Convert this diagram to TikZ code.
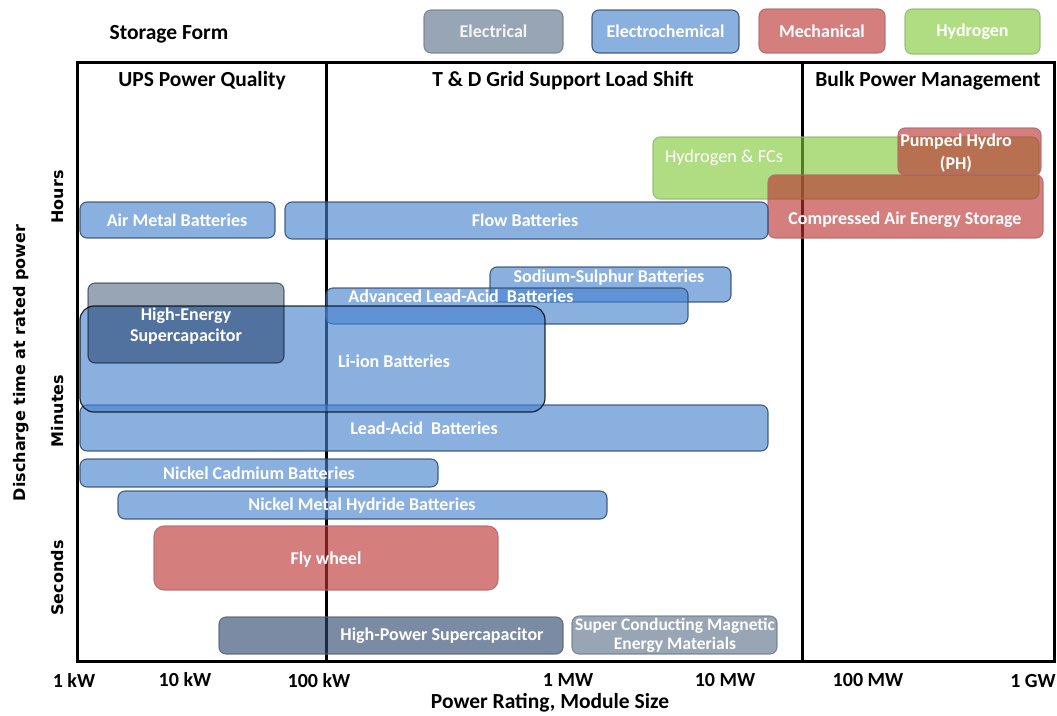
\documentclass[tikz,border=0pt]{standalone}
\usepackage{fontspec}
\setmainfont{Carlito}
\newfontfamily\axfont{DejaVu Sans}
\definecolor{gryF}{HTML}{5C7189}
\definecolor{gryM}{HTML}{98A5B5}
\definecolor{gryD}{HTML}{737D8C}
\definecolor{dgryF}{HTML}{2D476E}
\definecolor{bluF}{HTML}{4682CE}
\definecolor{bluD}{HTML}{2E4A70}
\definecolor{redF}{HTML}{BB3333}
\definecolor{redD}{HTML}{B06A6A}
\definecolor{grnF}{HTML}{82C839}
\definecolor{grnD}{HTML}{93B870}
\newcommand\storebox[6]{%
  \node[#2, minimum width={#5-#3}, minimum height={#6-#4}] (#1) at ({(#3+#5)/2},{(#4+#6)/2}) {};}
\begin{document}
\begin{tikzpicture}[x=1pt,y=-1pt,
  every node/.style={inner sep=0pt, outer sep=0pt},
  base/.style={rounded corners=7pt, line width=1.1pt, fill opacity=0.632, draw opacity=0.85},
  elec/.style={base, fill=gryF, draw=gryD},
  hielec/.style={rounded corners=7pt, line width=1.1pt, blend mode=multiply, fill=gryM, draw=gryD},
  delec/.style={base, fill=dgryF, draw=gryD!80!black},
  chem/.style={base, fill=bluF, draw=bluD},
  mech/.style={base, fill=redF, draw=redD},
  hydro/.style={base, fill=grnF, draw=grnD},
  lbl/.style={text=white, font=\fontsize{18}{21}\selectfont\bfseries, align=center},
  lbln/.style={text=white, font=\fontsize{18.3}{21}\selectfont, align=center},
  head/.style={font=\fontsize{21.5}{24}\selectfont\bfseries},
  tick/.style={font=\fontsize{20}{22}\selectfont\bfseries},
  yax/.style={font=\axfont\fontsize{16}{18}\selectfont\bfseries, rotate=90}]
\useasboundingbox (0,0) rectangle (1057,715);
% legend
\node[head] (sf) at (169,34) {Storage Form};
\storebox{lgE}{elec}{424}{10}{563}{53}
\node[lbl, text=white!92!gray] (lgEt) at (lgE) {Electrical};
\storebox{lgC}{chem}{592}{10}{739}{53}
\node[lbl] (lgCt) at (lgC) {Electrochemical};
\storebox{lgM}{mech}{759}{9}{885}{53}
\node[lbl] (lgMt) at (lgM) {Mechanical};
\storebox{lgH}{hydro}{905}{9}{1040}{54}
\node[lbl] (lgHt) at (lgH) {Hydrogen};
% frame
\draw[line width=3pt] (77,62) rectangle (1054,661);
\coordinate (d1t) at (326,62); \coordinate (d1b) at (326,661);
\coordinate (d2t) at (802,62); \coordinate (d2b) at (802,661);
\draw[line width=3pt] (d1t) -- (d1b);
\draw[line width=3pt] (d2t) -- (d2b);
\node[head] (h1) at (202,81) {UPS Power Quality};
\node[head] (h2) at (563,81) {T \& D Grid Support Load Shift};
\node[head] (h3) at (928,81) {Bulk Power Management};
% boxes
\storebox{hyd}{hydro}{653}{137}{1039}{199}
\node[lbln, anchor=west] (hydt) at (665,158) {Hydrogen \& FCs};
\storebox{ph}{mech}{898}{128}{1041}{175}
\node[lbl, align=center] (pht) at (956,153) {Pumped Hydro\\[2pt](PH)};
\storebox{caes}{mech}{768}{175}{1043}{238}
\node[lbl] (caest) at (905,220) {Compressed Air Energy Storage};
\storebox{am}{chem}{80}{202}{275}{238}
\node[lbl] (amt) at (177,220) {Air Metal Batteries};
\storebox{flow}{chem}{285}{202}{768}{239}
\node[lbl] (flowt) at (525,220) {Flow Batteries};
\storebox{nas}{chem}{490}{267}{731}{302}
\node[lbl] (nast) at (609,278) {Sodium-Sulphur Batteries};
\storebox{ala}{chem}{326}{288}{688}{324}
\node[lbl] (alat) at (461,296) {Advanced Lead-Acid\ \ Batteries};
\storebox{la}{chem}{80}{405}{768}{451}
\storebox{li}{chem, rounded corners=14pt, draw=black!85!bluD, line width=1.2pt}{80}{306}{545}{412}
\storebox{hes}{hielec}{88}{283}{284}{363}
\node[lbl] (hest) at (186,326) {High-Energy\\Supercapacitor};
\node[lbl] (lit) at (394,361) {Li-ion Batteries};
\node[lbl] (lat) at (424,428) {Lead-Acid\ \ Batteries};
\storebox{nicd}{chem}{80}{459}{438}{487}
\node[lbl] (nicdt) at (259,473) {Nickel Cadmium Batteries};
\storebox{nimh}{chem}{118}{491}{607}{519}
\node[lbl] (nimht) at (362,506) {Nickel Metal Hydride Batteries};
\storebox{fly}{mech, rounded corners=10pt}{154}{526}{498}{590}
\node[lbl] (flyt) at (326,560) {Fly wheel};
\storebox{hps}{delec}{219}{617}{563}{654}
\node[lbl] (hpst) at (442,636) {High-Power Supercapacitor};
\storebox{smes}{elec}{572}{616}{777}{654}
\node[lbl, font=\fontsize{17.5}{19}\selectfont\bfseries] (smest) at (675,635) {Super Conducting Magnetic\\Energy Materials};
% axes labels
\node[yax] (yh) at (58,197) {Hours};
\node[yax] (ym) at (58,411) {Minutes};
\node[yax] (ys) at (58,578) {Seconds};
\node[yax] (ytitle) at (21,363) {Discharge time at rated power};
\node[tick] (x1) at (74,680) {1 kW};
\node[tick] (x2) at (185,680) {10 kW};
\node[tick] (x3) at (319,681) {100 kW};
\node[tick] (x4) at (568,680) {1 MW};
\node[tick] (x5) at (725,680) {10 MW};
\node[tick] (x6) at (868,680) {100 MW};
\node[tick] (x7) at (1033,681) {1 GW};
\node[head] (xtitle) at (550,703) {Power Rating, Module Size};
\end{tikzpicture}
\end{document}
